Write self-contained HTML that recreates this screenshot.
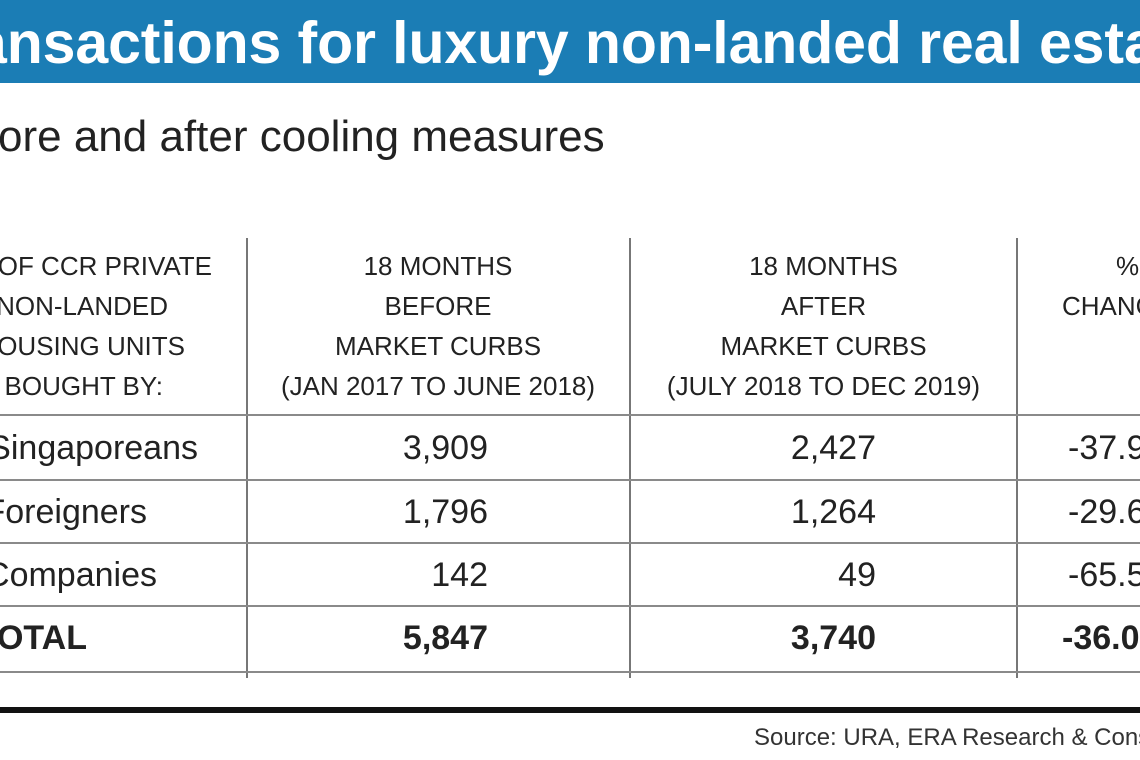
<!DOCTYPE html>
<html><head><meta charset="utf-8"><style>
html,body{margin:0;padding:0;}
body{width:1140px;height:760px;overflow:hidden;position:relative;background:#fff;font-family:"Liberation Sans",sans-serif;color:#222;}
#wrap{position:absolute;left:0;top:0;width:1140px;height:760px;overflow:hidden;}
.a{position:absolute;white-space:nowrap;}
#band{position:absolute;left:0;top:0;width:1140px;height:83px;background:#1b7db5;overflow:hidden;}
#title{position:absolute;left:-26px;top:9px;font-weight:bold;font-size:59px;color:#fff;white-space:nowrap;letter-spacing:-0.1px;}
#sub{left:-2px;top:112px;font-size:44px;color:#222;}
.h{font-size:26px;line-height:40px;color:#222;}
.r{text-align:right;}
.c{text-align:center;}
.cell{font-size:34px;line-height:40px;}
.b{font-weight:bold;}
.vl{position:absolute;width:2px;background:#777;top:238px;height:440px;}
.hl{position:absolute;left:0;width:1140px;height:2px;background:#8a8a8a;}
</style></head><body><div id="wrap">
<div id="band"><div id="title">ansactions for luxury non-landed real estate</div></div>
<div class="a" id="sub">ore and after cooling measures</div>

<div class="vl" style="left:246px"></div>
<div class="vl" style="left:629px"></div>
<div class="vl" style="left:1016px"></div>
<div class="hl" style="top:414px"></div>
<div class="hl" style="top:479px"></div>
<div class="hl" style="top:542px"></div>
<div class="hl" style="top:605px"></div>
<div class="hl" style="top:671px"></div>
<div class="a" style="left:0;top:707px;width:1140px;height:6px;background:#111"></div>

<div class="a h r" style="right:928px;top:246px">NO. OF CCR PRIVATE</div>
<div class="a h r" style="right:972px;top:286px">NON-LANDED</div>
<div class="a h r" style="right:955px;top:326px">HOUSING UNITS</div>
<div class="a h r" style="right:977px;top:366px">BOUGHT BY:</div>

<div class="a h c" style="left:248px;width:380px;top:246px">18 MONTHS<br>BEFORE<br>MARKET CURBS<br>(JAN 2017 TO JUNE 2018)</div>
<div class="a h c" style="left:631px;width:385px;top:246px">18 MONTHS<br>AFTER<br>MARKET CURBS<br>(JULY 2018 TO DEC 2019)</div>
<div class="a h" style="left:1116px;top:246px">%</div>
<div class="a h" style="left:1062px;top:286px">CHANGE</div>

<div class="a cell r" style="right:942px;top:428px">Singaporeans</div>
<div class="a cell r" style="right:652px;top:428px">3,909</div>
<div class="a cell r" style="right:264px;top:428px">2,427</div>
<div class="a cell" style="left:1068px;top:428px">-37.9%</div>

<div class="a cell r" style="right:993px;top:492px">Foreigners</div>
<div class="a cell r" style="right:652px;top:492px">1,796</div>
<div class="a cell r" style="right:264px;top:492px">1,264</div>
<div class="a cell" style="left:1068px;top:492px">-29.6%</div>

<div class="a cell r" style="right:983px;top:555px">Companies</div>
<div class="a cell r" style="right:652px;top:555px">142</div>
<div class="a cell r" style="right:264px;top:555px">49</div>
<div class="a cell" style="left:1068px;top:555px">-65.5%</div>

<div class="a cell r b" style="right:1053px;top:618px">TOTAL</div>
<div class="a cell r b" style="right:652px;top:618px">5,847</div>
<div class="a cell r b" style="right:264px;top:618px">3,740</div>
<div class="a cell b" style="left:1062px;top:618px">-36.0%</div>

<div class="a" style="left:754px;top:724px;font-size:24px;color:#333">Source: URA, ERA Research &amp; Consultancy</div>
</div></body></html>
